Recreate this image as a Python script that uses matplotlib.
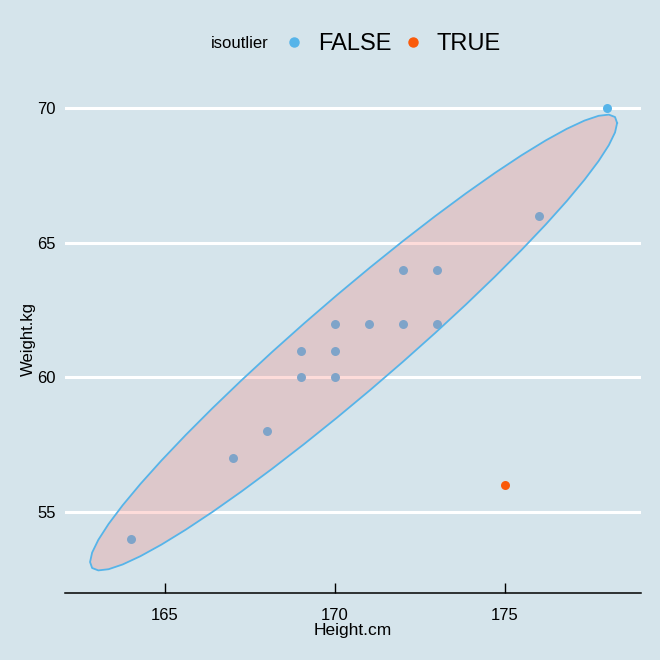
import numpy as np
import matplotlib
matplotlib.use("Agg")
import matplotlib.pyplot as plt
from matplotlib.lines import Line2D

plt.rcParams['font.family'] = ['Liberation Sans', 'DejaVu Sans']

# data
height = [164, 167, 168, 169, 169, 170, 170, 170, 171, 172, 172, 173, 173, 176, 178, 175]
weight = [54, 57, 58, 60, 61, 60, 61, 62, 62, 62, 64, 62, 64, 66, 70, 56]
isoutlier = [False] * 15 + [True]

bg = "#d5e4eb"
col_false = "#56B4E9"
col_true = "#FA5A0A"


def cov_trob(x, nu=5, maxit=50, tol=1e-4):
    # robust t covariance, like MASS::cov.trob
    n, p = x.shape
    loc = x.mean(axis=0)
    w = np.ones(n)
    for _ in range(maxit):
        w0 = w
        X = x - loc
        S = (w[:, None] * X).T @ X / w.sum()
        Q = np.einsum('ij,jk,ik->i', X, np.linalg.inv(S), X)
        w = (nu + p) / (nu + Q)
        loc = (w[:, None] * x).sum(axis=0) / w.sum()
        if np.all(np.abs(w - w0) < tol):
            break
    X = x - loc
    cov = (w[:, None] * X).T @ X / n
    return loc, cov


def stat_ellipse(xs, ys, level_f=3.738892, segments=51):
    pts = np.column_stack([xs, ys]).astype(float)
    loc, cov = cov_trob(pts)
    radius = np.sqrt(2 * level_f)  # qf(0.95, 2, n-1) with n=15
    ch = np.linalg.cholesky(cov).T
    t = np.linspace(0, 2 * np.pi, segments)
    unit = np.column_stack([np.cos(t), np.sin(t)])
    return loc + radius * unit @ ch


fig = plt.figure(figsize=(6.6, 6.6), dpi=100, facecolor=bg)
ax = fig.add_axes([65 / 660, 1 - 593 / 660, 576 / 660, (593 - 85) / 660])
ax.set_facecolor(bg)

h = np.array(height)
w = np.array(weight)
o = np.array(isoutlier)

ax.scatter(h[~o], w[~o], s=42, color=col_false, zorder=2, linewidths=0)
ax.scatter(h[o], w[o], s=42, color=col_true, zorder=2, linewidths=0)

ell = stat_ellipse(h[~o], w[~o])
ax.fill(ell[:, 0], ell[:, 1], facecolor="#F8766D", alpha=0.25, edgecolor="none", zorder=3)
ax.plot(ell[:, 0], ell[:, 1], color=col_false, lw=1.3, zorder=4)

ax.set_xlim(162.06, 179.0)
ax.set_ylim(51.99, 70.87)
ax.set_xticks([165, 170, 175])
ax.set_yticks([55, 60, 65, 70])
ax.yaxis.grid(True, color="white", lw=2.2, zorder=1)
ax.set_axisbelow(True)

for s in ["top", "right", "left"]:
    ax.spines[s].set_visible(False)
ax.spines["bottom"].set_color("black")
ax.spines["bottom"].set_linewidth(1.1)

ax.tick_params(axis="x", direction="in", length=7, width=1, pad=10.5, labelsize=12)
ax.tick_params(axis="y", length=0, pad=6.5, labelsize=12)

ax.set_xlabel("Height.cm", fontsize=12.5, labelpad=0)
ax.set_ylabel("Weight.kg", fontsize=12)
ax.yaxis.set_label_coords(-0.05, 0.5)

# legend on top
fig.text(240 / 660, 1 - 44 / 660, "isoutlier", fontsize=12, ha="center", va="center")
handles = [Line2D([], [], marker="o", ls="", color=col_false, markersize=6.5),
           Line2D([], [], marker="o", ls="", color=col_true, markersize=6.5)]
fig.legend(handles, ["FALSE", "TRUE"], ncol=2, frameon=False, fontsize=17,
           loc="center left", bbox_to_anchor=(273 / 660, 1 - 44 / 660),
           handlelength=0.8, handletextpad=0.6, columnspacing=0.5, borderpad=0)

fig.savefig("out.png", dpi=100, facecolor=bg)
